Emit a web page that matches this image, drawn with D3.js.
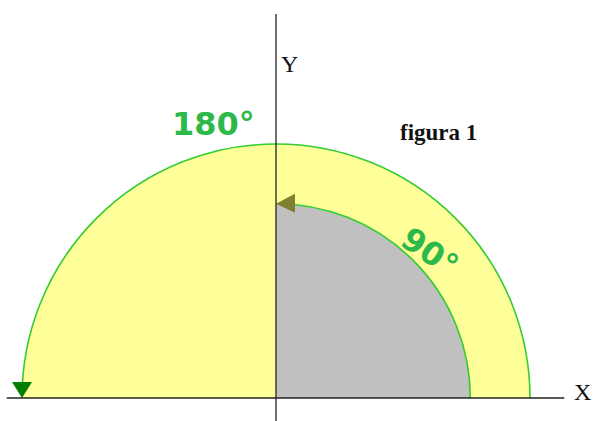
<!DOCTYPE html>
<html><head><meta charset="utf-8">
<script src="https://cdn.jsdelivr.net/npm/d3@7"></script>
<style>html,body{margin:0;padding:0;background:#fff;}svg{display:block;}</style>
</head><body>
<script>
// Data
const arcAngles = [180, 90];          // degrees swept by each region
const arcRadii = [1, 0.765];          // radii in axis units
const arcLabels = ["180°", "90°"];
const axisLabels = ["X", "Y"];
const titleText = "figura 1";

const W = 593, H = 421;
const svg = d3.select("body").append("svg").attr("width", W).attr("height", H);

const x = d3.scaleLinear().domain([-1, 1]).range([22, 530]);
const y = d3.scaleLinear().domain([0, 1]).range([398, 144]);
const cx = x(0), cy = y(0);
const rpx = v => x(v) - x(0);

const fills = ["#ffff99", "#c0c0c0"];
const stroke = "#33cc33";
const arrowColors = ["#007f00", "#7f7f2f"];

const g = svg.append("g").attr("transform", `translate(${cx},${cy})`);
arcAngles.forEach((a, i) => {
  const r = rpx(arcRadii[i]);
  const end = Math.PI / 2;
  const start = end - a * Math.PI / 180;
  g.append("path")
    .attr("d", d3.arc()({innerRadius: 0, outerRadius: r, startAngle: start, endAngle: end}))
    .attr("fill", fills[i]);
});
arcAngles.forEach((a, i) => {
  const r = rpx(arcRadii[i]);
  const end = Math.PI / 2;
  const start = end - a * Math.PI / 180;
  const p = d3.path();
  p.arc(0, 0, r, start - Math.PI / 2, end - Math.PI / 2);
  g.append("path").attr("d", p.toString()).attr("fill", "none")
    .attr("stroke", stroke).attr("stroke-width", 1.6);
});

// axes
svg.append("line").attr("x1", x(-1.06)).attr("x2", x(1.135)).attr("y1", cy).attr("y2", cy)
  .attr("stroke", "#222").attr("stroke-width", 1.3);
svg.append("line").attr("x1", cx).attr("x2", cx).attr("y1", y(1.512)).attr("y2", H)
  .attr("stroke", "#222").attr("stroke-width", 1.3);

// arrowheads at arc ends
{
  const r = rpx(arcRadii[0]);
  const tx = cx - r, ty = cy;
  svg.append("path").attr("d", `M${tx},${ty} L${tx - 10},${ty - 16} L${tx + 10},${ty - 16} Z`)
    .attr("fill", arrowColors[0]);
}
{
  const r = rpx(arcRadii[1]);
  const tx = cx, ty = cy - r;
  svg.append("path").attr("d", `M${tx},${ty} L${tx + 19},${ty - 10} L${tx + 19},${ty + 9} Z`)
    .attr("fill", arrowColors[1]);
}

// labels
svg.append("text").attr("x", 172).attr("y", 135).text(arcLabels[0])
  .attr("font-family", "DejaVu Sans, Verdana, sans-serif").attr("font-size", 32)
  .attr("font-weight", "bold").attr("fill", "#2db84a");
svg.append("text").attr("transform", "translate(430,252) rotate(34)")
  .attr("text-anchor", "middle").attr("dy", "0.35em").text(arcLabels[1])
  .attr("font-family", "DejaVu Sans, Verdana, sans-serif").attr("font-size", 32)
  .attr("font-weight", "bold").attr("fill", "#2db84a");

svg.append("text").attr("x", 574).attr("y", 400).text(axisLabels[0])
  .attr("font-family", "Liberation Serif, Times New Roman, serif").attr("font-size", 24).attr("fill", "#111");
svg.append("text").attr("x", 281).attr("y", 72).text(axisLabels[1])
  .attr("font-family", "Liberation Serif, Times New Roman, serif").attr("font-size", 24).attr("fill", "#111");

svg.append("text").attr("x", 400).attr("y", 140).text(titleText)
  .attr("font-family", "Liberation Serif, Times New Roman, serif").attr("font-size", 23)
  .attr("font-weight", "bold").attr("fill", "#111");
</script>
</body></html>
